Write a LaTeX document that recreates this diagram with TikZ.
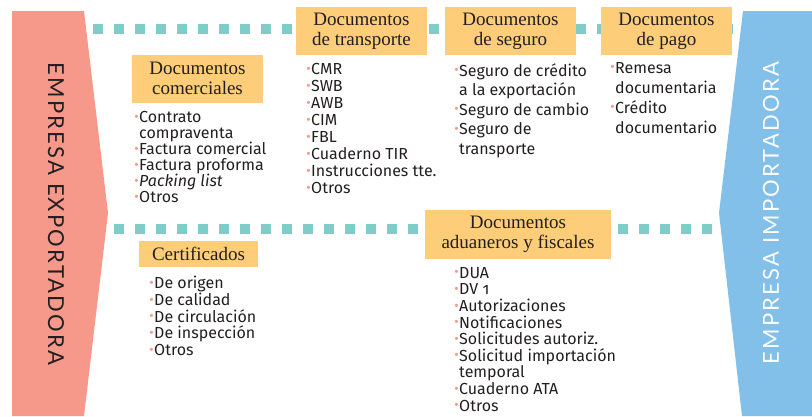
\documentclass[tikz,border=0pt]{standalone}
\usepackage{fontspec}
\usepackage{graphicx}
\setmainfont{Liberation Serif}
\newfontfamily\listfont{Fira Sans}
\newfontfamily\sidefont[LetterSpace=10]{Lato}
\definecolor{sidesalmon}{HTML}{F6998A}
\definecolor{sideblue}{HTML}{82BFE9}
\definecolor{dotteal}{HTML}{7ECDC9}
\definecolor{boxorange}{HTML}{FDCD7A}
\definecolor{inkgray}{HTML}{231F20}
\newcommand{\itm}{\llap{\textcolor{sidesalmon}{\raisebox{0.15ex}{\scalebox{0.85}{\textbullet}}}\kern0.5pt}}
\begin{document}
\begin{tikzpicture}[x=1pt, y=-1pt,
    headbox/.style={fill=boxorange, inner sep=0pt, minimum height=48, align=center,
      text=inkgray, font=\fontsize{19}{20}\selectfont},
    listtext/.style={inner sep=0pt, anchor=north west, align=left, text=inkgray,
      font=\listfont\fontsize{16}{#1}\selectfont},
    listtext/.default=16.7,
    sidetext/.style={inner sep=0pt, font=\sidefont\fontsize{22}{22}\selectfont},
    dotline/.style={draw=dotteal, line width=10, dash pattern=on 10 off 11}]
  \useasboundingbox (0,0) rectangle (812,416);

  \fill[sidesalmon] (12,11) -- (84,11) -- (108,213) -- (84,416) -- (12,416) -- cycle;
  \fill[sideblue] (743,11) -- (812,11) -- (812,416) -- (742,416) -- (719,213) -- cycle;
  \node[sidetext, rotate=-90, text=inkgray] (expo) at (56,214) {EMPRESA EXPORTADORA};
  \node[sidetext, rotate=90, text=white] (impo) at (771,213) {EMPRESA IMPORTADORA};

  \draw[dotline] (93,29) -- (733,29);
  \draw[dotline] (114,229) -- (712,229);

  \node[headbox, minimum width=131] (comhead) at (197.5,78.5) {Documentos\\comerciales};
  \node[headbox, minimum width=131] (trahead) at (361.5,31) {Documentos\\de transporte};
  \node[headbox, minimum width=131] (seghead) at (510.5,31) {Documentos\\de seguro};
  \node[headbox, minimum width=131] (paghead) at (666.5,31) {Documentos\\de pago};
  \node[headbox, minimum width=119, minimum height=26] (cerhead) at (198.5,254) {Certificados};
  \node[headbox, minimum width=186, minimum height=49] (aduhead) at (518,234.5) {Documentos\\aduaneros y fiscales};

  \node[listtext=16.1] (comlist) at (139,111) {\itm Contrato\\compraventa\\\itm Factura comercial\\\itm Factura proforma\\\itm\textit{Packing list}\\\itm Otros};
  \node[listtext=17] (tralist) at (311,63) {\itm CMR\\\itm SWB\\\itm AWB\\\itm CIM\\\itm FBL\\\itm Cuaderno TIR\\\itm Instrucciones tte.\\\itm Otros};
  \node[listtext=19.5] (seglist) at (459,63) {\itm Seguro de crédito\\a la exportación\\\itm Seguro de cambio\\\itm Seguro de\\transporte};
  \node[listtext=20] (paglist) at (615,62) {\itm Remesa\\documentaria\\\itm Crédito\\documentario};
  \node[listtext] (cerlist) at (154,276) {\itm De origen\\\itm De calidad\\\itm De circulación\\\itm De inspección\\\itm Otros};
  \node[listtext=16.6] (adulist) at (459,267) {\itm DUA\\\itm DV {\addfontfeature{Numbers=OldStyle}1}\\\itm Autorizaciones\\\itm Notificaciones\\\itm Solicitudes autoriz.\\\itm Solicitud importación\\temporal\\\itm Cuaderno ATA\\\itm Otros};
\end{tikzpicture}
\end{document}
